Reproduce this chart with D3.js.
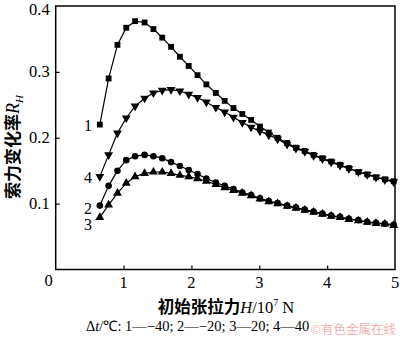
<!DOCTYPE html>
<html><head><meta charset="utf-8">
<script src="https://cdn.jsdelivr.net/npm/d3@7"></script>
<style>body{margin:0;background:#fff}svg{display:block}</style>
</head><body>
<svg id="c" width="400" height="341"></svg>
<script>
const xs = [0.65,0.78,0.91,1.04,1.17,1.31,1.44,1.57,1.70,1.83,1.96,2.09,2.22,2.36,2.49,2.62,2.75,2.88,3.01,3.14,3.27,3.41,3.54,3.67,3.80,3.93,4.06,4.19,4.32,4.46,4.59,4.72,4.85,4.98];
const s1 = [0.220,0.290,0.341,0.367,0.377,0.375,0.365,0.352,0.338,0.323,0.309,0.295,0.281,0.268,0.256,0.245,0.236,0.227,0.217,0.208,0.200,0.192,0.185,0.180,0.174,0.169,0.164,0.159,0.154,0.148,0.1445,0.140,0.137,0.134];
const s2 = [0.097,0.127,0.150,0.166,0.172,0.174,0.172,0.169,0.163,0.157,0.151,0.145,0.138,0.132,0.127,0.122,0.117,0.113,0.108,0.104,0.101,0.097,0.094,0.091,0.088,0.085,0.082,0.080,0.077,0.075,0.0725,0.071,0.0695,0.068];
const s3 = [0.079,0.098,0.116,0.131,0.141,0.146,0.148,0.148,0.146,0.143,0.141,0.138,0.134,0.129,0.124,0.120,0.116,0.112,0.107,0.103,0.100,0.096,0.093,0.090,0.087,0.084,0.081,0.079,0.076,0.074,0.072,0.070,0.069,0.067];
const s4 = [0.141,0.174,0.207,0.230,0.248,0.260,0.268,0.272,0.273,0.271,0.266,0.261,0.254,0.246,0.239,0.231,0.223,0.216,0.210,0.204,0.198,0.190,0.184,0.179,0.173,0.168,0.163,0.158,0.153,0.148,0.144,0.140,0.136,0.133];
const seriesLabels = ["1","2","3","4"];
const xTicks = [1,2,3,4,5];
const yTicks = [0.1,0.2,0.3,0.4];
const legendText = ["Δ","t","/℃: 1—−40; 2—−20; 3—20; 4—40"];

const svg = d3.select("#c");
const L = 55.7, R = 395, T = 6, B = 269.5;
const x = d3.scaleLinear().domain([0,5]).range([L,R]);
const y = d3.scaleLinear().domain([0,0.4]).range([B,T]);
const serif = "Liberation Serif, Times New Roman, serif";
const cjk = "Noto Sans CJK SC, Noto Sans, sans-serif";

// frame
svg.append("rect").attr("x",L).attr("y",T).attr("width",R-L).attr("height",B-T)
  .attr("fill","none").attr("stroke","#000").attr("stroke-width",1.5);

// axes (ticks inward)
const xa = svg.append("g").attr("transform",`translate(0,${B})`)
  .call(d3.axisBottom(x).tickValues(xTicks.slice(0,4)).tickSize(-4).tickFormat(""));
const ya = svg.append("g").attr("transform",`translate(${L},0)`)
  .call(d3.axisLeft(y).tickValues(yTicks.slice(0,3)).tickSize(-4).tickFormat(""));
[xa,ya].forEach(g=>{g.select(".domain").remove();g.selectAll("line").attr("stroke","#000").attr("stroke-width",1.2);});

// tick labels
svg.selectAll(".xl").data(xTicks).join("text").attr("class","xl")
  .attr("x",d=>x(d)).attr("y",288).attr("text-anchor","middle")
  .attr("font-family",serif).attr("font-size",16.5).text(d=>d);
svg.append("text").attr("x",x(0)-7).attr("y",286).attr("text-anchor","middle")
  .attr("font-family",serif).attr("font-size",16.5).text("0");
svg.selectAll(".yl").data(yTicks).join("text").attr("class","yl")
  .attr("x",L-6).attr("y",d=>Math.max(y(d)+5.5,15)).attr("text-anchor","end")
  .attr("font-family",serif).attr("font-size",16.5).text(d=>d.toFixed(1));

// series
const data = [
  {v:s1, sym:d3.symbolSquare, size:34, rot:0},
  {v:s2, sym:d3.symbolCircle, size:34, rot:0},
  {v:s3, sym:d3.symbolTriangle, size:34, rot:0},
  {v:s4, sym:d3.symbolTriangle, size:34, rot:180}
];
const line = d3.line().x((d,i)=>x(xs[i])).y(d=>y(d));
data.forEach(s=>{
  svg.append("path").datum(s.v).attr("d",line).attr("fill","none")
    .attr("stroke","#000").attr("stroke-width",1.2);
  svg.selectAll(null).data(s.v).join("path")
    .attr("d",d3.symbol().type(s.sym).size(s.size))
    .attr("transform",(d,i)=>`translate(${x(xs[i])},${y(d)}) rotate(${s.rot})`)
    .attr("fill","#000");
});

// series number labels
const labPos = [[88,s1[0],6],[88,s2[0],8.5],[88,s3[0],12.5],[88,s4[0],6]];
seriesLabels.forEach((t,i)=>{
  svg.append("text").attr("x",labPos[i][0]).attr("y",y(labPos[i][1])+labPos[i][2])
    .attr("text-anchor","middle").attr("font-family",serif).attr("font-size",16).text(t);
});

// x title
const xt = svg.append("text").attr("x",226).attr("y",313).attr("text-anchor","middle")
  .attr("font-size",16.5);
xt.append("tspan").attr("font-family",cjk).attr("font-weight",700).text("初始张拉力");
xt.append("tspan").attr("font-family",serif).attr("font-style","italic").text("H");
xt.append("tspan").attr("font-family",serif).text("/10");
xt.append("tspan").attr("font-family",serif).attr("font-size",10).attr("dy",-7).text("7");
xt.append("tspan").attr("font-family",serif).attr("dy",7).text(" N");

// y title
const yt = svg.append("text").attr("transform","translate(19,147) rotate(-90)")
  .attr("text-anchor","middle").attr("font-size",17);
yt.append("tspan").attr("font-family",cjk).attr("font-weight",700).text("索力变化率");
yt.append("tspan").attr("font-family",serif).attr("font-style","italic").attr("font-size",18).text("R");
yt.append("tspan").attr("font-family",serif).attr("font-style","italic").attr("font-size",11).attr("dy",4).text("H");

// legend note
const lg = svg.append("text").attr("x",86).attr("y",331).attr("font-family",serif).attr("font-size",14.5);
lg.append("tspan").text(legendText[0]);
lg.append("tspan").attr("font-style","italic").text(legendText[1]);
lg.append("tspan").text(legendText[2]);

// watermark
svg.append("text").attr("x",396).attr("y",334).attr("text-anchor","end")
  .attr("font-family",cjk).attr("font-size",12.5).attr("fill","#f0b4b4").text("©有色金属在线");
</script>
</body></html>
